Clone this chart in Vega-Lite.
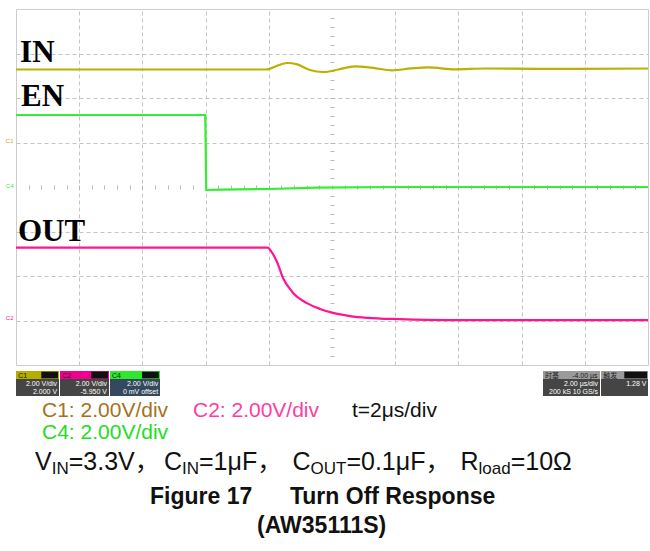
{
  "$schema": "https://vega.github.io/schema/vega-lite/v6.json",
  "width": 632,
  "height": 356,
  "autosize": {"type": "none"},
  "padding": {"left": 16, "top": 9, "right": 2, "bottom": 186},
  "background": "white",
  "config": {"view": {"stroke": "#cccccc", "strokeWidth": 1}},
  "resolve": {"axis": {"x": "independent", "y": "independent"}, "scale": {"color": "independent"}},
  "datasets": {
    "traces": [
      {"ch": "IN", "t": 0, "v": 2.64}, {"ch": "IN", "t": 7.9, "v": 2.64}, {"ch": "IN", "t": 8.0, "v": 2.65},
      {"ch": "IN", "t": 8.25, "v": 2.72}, {"ch": "IN", "t": 8.58, "v": 2.787}, {"ch": "IN", "t": 8.9, "v": 2.755},
      {"ch": "IN", "t": 9.3, "v": 2.63}, {"ch": "IN", "t": 9.72, "v": 2.584}, {"ch": "IN", "t": 10.2, "v": 2.64},
      {"ch": "IN", "t": 10.73, "v": 2.712}, {"ch": "IN", "t": 11.3, "v": 2.675}, {"ch": "IN", "t": 11.9, "v": 2.622},
      {"ch": "IN", "t": 12.5, "v": 2.665}, {"ch": "IN", "t": 13.04, "v": 2.69}, {"ch": "IN", "t": 13.89, "v": 2.645},
      {"ch": "IN", "t": 14.84, "v": 2.663}, {"ch": "IN", "t": 16.5, "v": 2.655}, {"ch": "IN", "t": 20, "v": 2.663},
      {"ch": "EN", "t": 0, "v": 1.618}, {"ch": "EN", "t": 5.99, "v": 1.618}, {"ch": "EN", "t": 6.02, "v": -0.067},
      {"ch": "EN", "t": 6.5, "v": -0.06}, {"ch": "EN", "t": 8, "v": -0.045}, {"ch": "EN", "t": 9.5, "v": -0.015},
      {"ch": "EN", "t": 12, "v": 0}, {"ch": "EN", "t": 20, "v": 0},
      {"ch": "OUT", "t": 0, "v": -1.364}, {"ch": "OUT", "t": 7.97, "v": -1.364}, {"ch": "OUT", "t": 8.07, "v": -1.44},
      {"ch": "OUT", "t": 8.26, "v": -1.685}, {"ch": "OUT", "t": 8.45, "v": -2.045}, {"ch": "OUT", "t": 8.77, "v": -2.38},
      {"ch": "OUT", "t": 9.21, "v": -2.61}, {"ch": "OUT", "t": 9.62, "v": -2.74}, {"ch": "OUT", "t": 10.03, "v": -2.83},
      {"ch": "OUT", "t": 10.57, "v": -2.9}, {"ch": "OUT", "t": 11.11, "v": -2.94}, {"ch": "OUT", "t": 12.15, "v": -2.97},
      {"ch": "OUT", "t": 13.73, "v": -2.99}, {"ch": "OUT", "t": 20, "v": -2.99}
    ],
    "labels": [
      {"txt": "IN", "t": 0.13, "v": 2.81},
      {"txt": "EN", "t": 0.16, "v": 1.82},
      {"txt": "OUT", "t": 0.06, "v": -1.21}
    ],
    "gnd": [
      {"txt": "C1", "ch": "IN", "t": -0.2, "v": 1.03},
      {"txt": "C4", "ch": "EN", "t": -0.2, "v": 0.02},
      {"txt": "C2", "ch": "OUT", "t": -0.2, "v": -2.94}
    ],
    "bars": [
      {"kind": "C1h", "x1": 0, "x2": 1.361, "y1": -4.135, "y2": -4.315},
      {"kind": "body", "x1": 0, "x2": 1.361, "y1": -4.315, "y2": -4.697},
      {"kind": "C2h", "x1": 1.392, "x2": 2.943, "y1": -4.135, "y2": -4.315},
      {"kind": "body", "x1": 1.392, "x2": 2.943, "y1": -4.315, "y2": -4.697},
      {"kind": "C4h", "x1": 2.975, "x2": 4.557, "y1": -4.135, "y2": -4.315},
      {"kind": "body4", "x1": 2.975, "x2": 4.557, "y1": -4.315, "y2": -4.697},
      {"kind": "ind", "x1": 0.8, "x2": 1.33, "y1": -4.15, "y2": -4.3},
      {"kind": "ind", "x1": 2.38, "x2": 2.91, "y1": -4.15, "y2": -4.3},
      {"kind": "ind", "x1": 3.99, "x2": 4.52, "y1": -4.15, "y2": -4.3},
      {"kind": "rh", "x1": 16.677, "x2": 18.481, "y1": -4.135, "y2": -4.315},
      {"kind": "body", "x1": 16.677, "x2": 18.481, "y1": -4.315, "y2": -4.697},
      {"kind": "rh", "x1": 18.513, "x2": 20, "y1": -4.135, "y2": -4.315},
      {"kind": "body", "x1": 18.513, "x2": 20, "y1": -4.315, "y2": -4.697},
      {"kind": "ind", "x1": 19.25, "x2": 19.97, "y1": -4.15, "y2": -4.3}
    ],
    "bodytext": [
      {"txt": "2.00 V/div", "t": 1.3, "v": -4.472}, {"txt": "2.000 V", "t": 1.3, "v": -4.652},
      {"txt": "2.00 V/div", "t": 2.88, "v": -4.472}, {"txt": "-5.950 V", "t": 2.88, "v": -4.652},
      {"txt": "2.00 V/div", "t": 4.5, "v": -4.472}, {"txt": "0 mV offset", "t": 4.5, "v": -4.652},
      {"txt": "2.00 µs/div", "t": 18.42, "v": -4.472}, {"txt": "200 kS    10 GS/s", "t": 18.42, "v": -4.652},
      {"txt": "1.28 V", "t": 19.95, "v": -4.472}
    ],
    "headtext": [
      {"txt": "C1", "t": 0.07, "v": -4.29}, {"txt": "C2", "t": 1.46, "v": -4.29}, {"txt": "C4", "t": 3.04, "v": -4.29},
      {"txt": "时基", "t": 16.74, "v": -4.29}, {"txt": "-4.00 µs", "t": 17.6, "v": -4.29}, {"txt": "触发", "t": 18.58, "v": -4.29}
    ],
    "cap1": [
      {"txt": "C1: 2.00V/div", "c": "c1", "t": 0.823, "v": -5.169},
      {"txt": "C2: 2.00V/div", "c": "c2", "t": 5.6, "v": -5.169},
      {"txt": "t=2μs/div", "c": "t", "t": 10.63, "v": -5.169},
      {"txt": "C4: 2.00V/div", "c": "c4", "t": 0.823, "v": -5.663}
    ],
    "vinMain": [
      {"txt": "V", "t": 0.601, "v": -6.36},
      {"txt": "=3.3V，", "t": 1.668, "v": -6.36},
      {"txt": "C", "t": 4.684, "v": -6.36},
      {"txt": "=1μF，", "t": 5.791, "v": -6.36},
      {"txt": "C", "t": 8.75, "v": -6.36},
      {"txt": "=0.1μF，", "t": 10.456, "v": -6.36},
      {"txt": "R", "t": 14.07, "v": -6.36},
      {"txt": "=10Ω", "t": 15.655, "v": -6.36}
    ],
    "vinSub": [
      {"txt": "IN", "t": 1.13, "v": -6.449},
      {"txt": "IN", "t": 5.253, "v": -6.449},
      {"txt": "OUT", "t": 9.32, "v": -6.449},
      {"txt": "load", "t": 14.639, "v": -6.449}
    ],
    "capBold": [
      {"txt": "Figure 17", "t": 4.241, "v": -7.124},
      {"txt": "Turn Off Response", "t": 8.67, "v": -7.124},
      {"txt": "(AW35111S)", "t": 7.63, "v": -7.775}
    ]
  },
  "layer": [
    {
      "mark": {"type": "rule", "color": "#b4b4b4", "strokeWidth": 1},
      "encoding": {
        "x": {"datum": 10, "type": "quantitative", "scale": {"domain": [0, 20], "nice": false, "zero": false},
          "axis": {"orient": "bottom", "values": [2, 4, 6, 8, 12, 14, 16, 18], "grid": true, "gridColor": "#c4c4c4", "gridDash": [4, 3], "gridWidth": 1, "ticks": false, "labels": false, "domain": false, "title": null}}
      }
    },
    {
      "mark": {"type": "rule", "color": "#b4b4b4", "strokeWidth": 1},
      "encoding": {
        "y": {"datum": 0, "type": "quantitative", "scale": {"domain": [-4, 4], "nice": false, "zero": false},
          "axis": {"orient": "left", "values": [-3, -2, -1, 1, 2, 3], "grid": true, "gridColor": "#c4c4c4", "gridDash": [4, 3], "gridWidth": 1, "ticks": false, "labels": false, "domain": false, "title": null}}
      }
    },
    {
      "mark": {"type": "point", "opacity": 0},
      "encoding": {
        "x": {"datum": 10, "type": "quantitative", "scale": {"domain": [0, 20], "nice": false, "zero": false},
          "axis": {"orient": "bottom", "offset": -178, "values": [0.4,0.8,1.2,1.6,2,2.4,2.8,3.2,3.6,4,4.4,4.8,5.2,5.6,6,6.4,6.8,7.2,7.6,8,8.4,8.8,9.2,9.6,10,10.4,10.8,11.2,11.6,12,12.4,12.8,13.2,13.6,14,14.4,14.8,15.2,15.6,16,16.4,16.8,17.2,17.6,18,18.4,18.8,19.2,19.6], "ticks": true, "tickSize": 2, "tickColor": "#b4b4b4", "labels": false, "domain": false, "grid": false, "title": null}}
      }
    },
    {
      "mark": {"type": "point", "opacity": 0},
      "encoding": {
        "x": {"datum": 10, "type": "quantitative", "scale": {"domain": [0, 20], "nice": false, "zero": false},
          "axis": {"orient": "top", "offset": -178, "values": [0.4,0.8,1.2,1.6,2,2.4,2.8,3.2,3.6,4,4.4,4.8,5.2,5.6,6,6.4,6.8,7.2,7.6,8,8.4,8.8,9.2,9.6,10,10.4,10.8,11.2,11.6,12,12.4,12.8,13.2,13.6,14,14.4,14.8,15.2,15.6,16,16.4,16.8,17.2,17.6,18,18.4,18.8,19.2,19.6], "ticks": true, "tickSize": 2, "tickColor": "#b4b4b4", "labels": false, "domain": false, "grid": false, "title": null}}
      }
    },
    {
      "mark": {"type": "point", "opacity": 0},
      "encoding": {
        "y": {"datum": 0, "type": "quantitative", "scale": {"domain": [-4, 4], "nice": false, "zero": false},
          "axis": {"orient": "left", "offset": -316, "values": [-3.8,-3.6,-3.4,-3.2,-3,-2.8,-2.6,-2.4,-2.2,-2,-1.8,-1.6,-1.4,-1.2,-1,-0.8,-0.6,-0.4,-0.2,0.2,0.4,0.6,0.8,1,1.2,1.4,1.6,1.8,2,2.2,2.4,2.6,2.8,3,3.2,3.4,3.6,3.8], "ticks": true, "tickSize": 2, "tickColor": "#b4b4b4", "labels": false, "domain": false, "grid": false, "title": null}}
      }
    },
    {
      "mark": {"type": "point", "opacity": 0},
      "encoding": {
        "y": {"datum": 0, "type": "quantitative", "scale": {"domain": [-4, 4], "nice": false, "zero": false},
          "axis": {"orient": "right", "offset": -316, "values": [-3.8,-3.6,-3.4,-3.2,-3,-2.8,-2.6,-2.4,-2.2,-2,-1.8,-1.6,-1.4,-1.2,-1,-0.8,-0.6,-0.4,-0.2,0.2,0.4,0.6,0.8,1,1.2,1.4,1.6,1.8,2,2.2,2.4,2.6,2.8,3,3.2,3.4,3.6,3.8], "ticks": true, "tickSize": 2, "tickColor": "#b4b4b4", "labels": false, "domain": false, "grid": false, "title": null}}
      }
    },
    {
      "data": {"name": "traces"},
      "transform": [{"filter": "datum.ch === 'IN'"}],
      "mark": {"type": "line", "interpolate": "monotone", "strokeWidth": 2.2, "color": "#bcb000"},
      "encoding": {
        "x": {"field": "t", "type": "quantitative", "scale": {"domain": [0, 20], "nice": false, "zero": false}, "axis": null},
        "y": {"field": "v", "type": "quantitative", "scale": {"domain": [-4, 4], "nice": false, "zero": false}, "axis": null}
      }
    },
    {
      "data": {"name": "traces"},
      "transform": [{"filter": "datum.ch === 'EN'"}],
      "mark": {"type": "line", "interpolate": "linear", "strokeWidth": 2.2, "color": "#33ee33"},
      "encoding": {
        "x": {"field": "t", "type": "quantitative", "scale": {"domain": [0, 20], "nice": false, "zero": false}, "axis": null},
        "y": {"field": "v", "type": "quantitative", "scale": {"domain": [-4, 4], "nice": false, "zero": false}, "axis": null}
      }
    },
    {
      "data": {"name": "traces"},
      "transform": [{"filter": "datum.ch === 'OUT'"}],
      "mark": {"type": "line", "interpolate": "monotone", "strokeWidth": 2.2, "color": "#ff1493"},
      "encoding": {
        "x": {"field": "t", "type": "quantitative", "scale": {"domain": [0, 20], "nice": false, "zero": false}, "axis": null},
        "y": {"field": "v", "type": "quantitative", "scale": {"domain": [-4, 4], "nice": false, "zero": false}, "axis": null}
      }
    },
    {
      "data": {"name": "labels"},
      "mark": {"type": "text", "font": "Liberation Serif", "fontWeight": "bold", "fontSize": 31, "align": "left", "baseline": "alphabetic", "color": "#000000"},
      "encoding": {
        "x": {"field": "t", "type": "quantitative", "axis": null},
        "y": {"field": "v", "type": "quantitative", "axis": null},
        "text": {"field": "txt"}
      }
    },
    {
      "data": {"name": "gnd"},
      "mark": {"type": "text", "font": "Liberation Sans", "fontSize": 6, "align": "center", "baseline": "middle"},
      "encoding": {
        "x": {"field": "t", "type": "quantitative", "axis": null},
        "y": {"field": "v", "type": "quantitative", "axis": null},
        "text": {"field": "txt"},
        "color": {"field": "ch", "type": "nominal", "scale": {"domain": ["IN", "EN", "OUT"], "range": ["#bcb000", "#33ee33", "#ff1493"]}, "legend": null}
      }
    },
    {
      "mark": {"type": "point", "shape": "triangle-left", "filled": true, "color": "#33ee33", "size": 22, "opacity": 1},
      "encoding": {
        "x": {"datum": 19.98, "type": "quantitative", "axis": null},
        "y": {"datum": 0.65, "type": "quantitative", "axis": null}
      }
    },
    {
      "mark": {"type": "point", "shape": "triangle-up", "filled": true, "color": "#33ee33", "size": 25, "opacity": 1},
      "encoding": {
        "x": {"datum": 5.99, "type": "quantitative", "axis": null},
        "y": {"datum": -4.02, "type": "quantitative", "axis": null}
      }
    },
    {
      "mark": {"type": "rule", "color": "#a8a8a8", "strokeWidth": 1.2},
      "encoding": {
        "x": {"datum": -0.507, "type": "quantitative", "axis": null},
        "x2": {"datum": 20.07},
        "y": {"datum": 4.067, "type": "quantitative", "axis": null}
      }
    },
    {
      "mark": {"type": "text", "text": "(AW35111S)", "font": "Liberation Sans", "fontWeight": "bold", "fontSize": 23, "align": "center", "baseline": "alphabetic", "color": "#000000"},
      "encoding": {
        "x": {"datum": 10.05, "type": "quantitative", "axis": null},
        "y": {"datum": 4.225, "type": "quantitative", "axis": null}
      }
    },
    {
      "data": {"name": "bars"},
      "mark": {"type": "rect"},
      "encoding": {
        "x": {"field": "x1", "type": "quantitative", "axis": null},
        "x2": {"field": "x2"},
        "y": {"field": "y1", "type": "quantitative", "axis": null},
        "y2": {"field": "y2"},
        "color": {"field": "kind", "type": "nominal", "scale": {"domain": ["C1h", "C2h", "C4h", "body", "body4", "rh", "ind"], "range": ["#b5ad00", "#f0008c", "#2ee82e", "#454545", "#34495e", "#9a9a9a", "#111111"]}, "legend": null}
      }
    },
    {
      "mark": {"type": "rect", "filled": false, "stroke": "#2a7fd4", "strokeWidth": 1},
      "encoding": {
        "x": {"datum": 2.975, "type": "quantitative", "axis": null},
        "x2": {"datum": 4.557},
        "y": {"datum": -4.135, "type": "quantitative", "axis": null},
        "y2": {"datum": -4.697}
      }
    },
    {
      "mark": {"type": "rect", "filled": false, "stroke": "#b0b0b0", "strokeWidth": 1, "strokeDash": [2, 2]},
      "encoding": {
        "x": {"datum": 4.589, "type": "quantitative", "axis": null},
        "x2": {"datum": 6.108},
        "y": {"datum": -4.135, "type": "quantitative", "axis": null},
        "y2": {"datum": -4.697}
      }
    },
    {
      "data": {"name": "bodytext"},
      "mark": {"type": "text", "font": "Liberation Sans", "fontSize": 7, "align": "right", "baseline": "alphabetic", "color": "#ffffff"},
      "encoding": {
        "x": {"field": "t", "type": "quantitative", "axis": null},
        "y": {"field": "v", "type": "quantitative", "axis": null},
        "text": {"field": "txt"}
      }
    },
    {
      "data": {"name": "headtext"},
      "mark": {"type": "text", "font": "Liberation Sans, Noto Sans CJK SC", "fontSize": 7, "align": "left", "baseline": "alphabetic", "color": "#1a1a1a"},
      "encoding": {
        "x": {"field": "t", "type": "quantitative", "axis": null},
        "y": {"field": "v", "type": "quantitative", "axis": null},
        "text": {"field": "txt"}
      }
    },
    {
      "data": {"name": "cap1"},
      "mark": {"type": "text", "font": "Liberation Sans", "fontSize": 21, "align": "left", "baseline": "alphabetic"},
      "encoding": {
        "x": {"field": "t", "type": "quantitative", "axis": null},
        "y": {"field": "v", "type": "quantitative", "axis": null},
        "text": {"field": "txt"},
        "color": {"field": "c", "type": "nominal", "scale": {"domain": ["c1", "c2", "t", "c4"], "range": ["#a6721c", "#ff3d9e", "#111111", "#22dd22"]}, "legend": null}
      }
    },
    {
      "data": {"name": "vinMain"},
      "mark": {"type": "text", "font": "Liberation Sans, Noto Sans CJK SC", "fontSize": 25, "align": "left", "baseline": "alphabetic", "color": "#111111"},
      "encoding": {
        "x": {"field": "t", "type": "quantitative", "axis": null},
        "y": {"field": "v", "type": "quantitative", "axis": null},
        "text": {"field": "txt"}
      }
    },
    {
      "data": {"name": "vinSub"},
      "mark": {"type": "text", "font": "Liberation Sans", "fontSize": 17, "align": "left", "baseline": "alphabetic", "color": "#111111"},
      "encoding": {
        "x": {"field": "t", "type": "quantitative", "axis": null},
        "y": {"field": "v", "type": "quantitative", "axis": null},
        "text": {"field": "txt"}
      }
    },
    {
      "data": {"name": "capBold"},
      "mark": {"type": "text", "font": "Liberation Sans", "fontWeight": "bold", "fontSize": 23, "align": "left", "baseline": "alphabetic", "color": "#111111"},
      "encoding": {
        "x": {"field": "t", "type": "quantitative", "axis": null},
        "y": {"field": "v", "type": "quantitative", "axis": null},
        "text": {"field": "txt"}
      }
    }
  ]
}
